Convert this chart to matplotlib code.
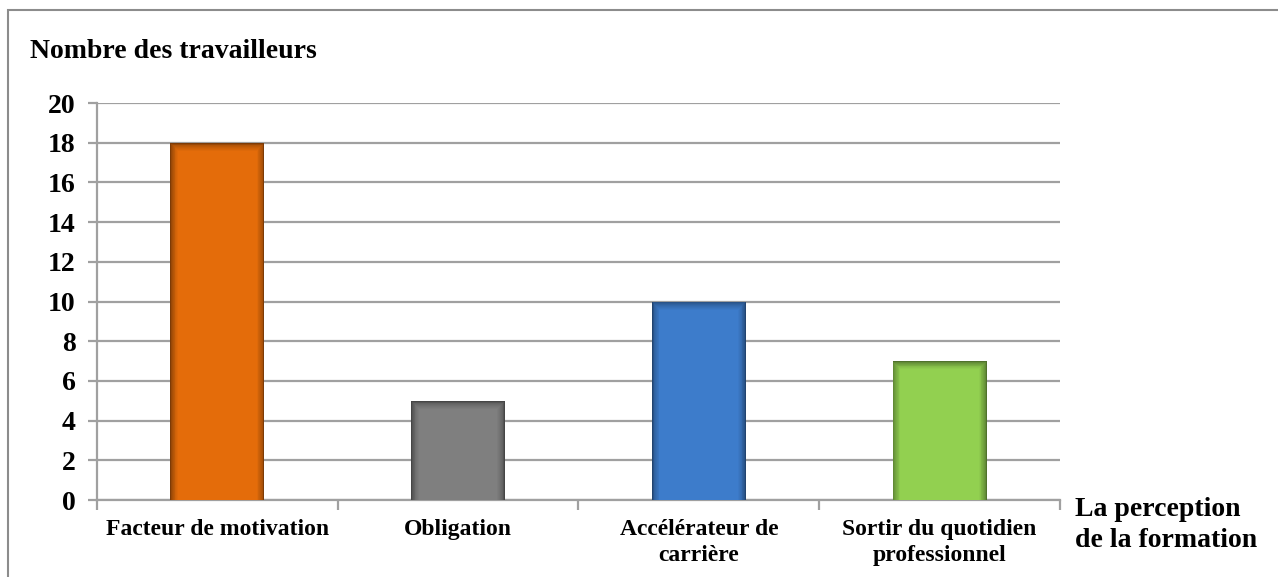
# Bar chart: perception of training among workers
import matplotlib.pyplot as plt
import matplotlib.colors as mcolors
from matplotlib.patches import Rectangle
import numpy as np

plt.rcParams['font.family'] = ['Liberation Serif', 'DejaVu Serif']
plt.rcParams['font.weight'] = 'bold'

categories = ["Facteur de motivation", "Obligation", "Accélérateur de\ncarrière",
              "Sortir du quotidien\nprofessionnel"]
values = [18, 5, 10, 7]
colors = ["#E46C0A", "#7F7F7F", "#3D7CCB", "#92D050"]

fig = plt.figure(figsize=(12.78, 5.77), dpi=100)
ax = fig.add_axes([0.0759, 0.1334, 0.7535, 0.688])

x = np.arange(len(values))
bar_w = 0.39

# layered bars give the darker, shaded edges of each column
n_layers = 10
for xi, v, c in zip(x, values, colors):
    base = np.array(mcolors.to_rgb(c))
    dark = base * 0.55
    for i in range(n_layers):
        t = (i / (n_layers - 1)) ** 0.6
        col = dark * (1 - t) + base * t
        w = bar_w - i * 0.007
        h = v - i * 0.045
        ax.bar(xi, h, width=w, color=col, edgecolor='none', zorder=3 + i * 0.01)

ax.set_xlim(-0.5, len(values) - 0.5)
ax.set_ylim(0, 20)
ax.set_yticks(range(0, 21, 2))
ax.yaxis.grid(True, color="#A0A0A0", linewidth=1.6, zorder=0)
ax.set_axisbelow(True)

for s in ["top", "right"]:
    ax.spines[s].set_visible(False)
for s in ["left", "bottom"]:
    ax.spines[s].set_color("#A0A0A0")
    ax.spines[s].set_linewidth(1.6)

# category boundary ticks on the x axis
ax.set_xticks(np.arange(-0.5, len(values), 1.0))
ax.set_xticklabels([])
ax.tick_params(axis='x', length=7, width=1.6, color="#A0A0A0")
ax.tick_params(axis='y', length=6.5, width=1.6, color="#A0A0A0", labelsize=20, pad=9)
for lbl in ax.get_yticklabels():
    lbl.set_fontweight('bold')

for xi, name in zip(x, categories):
    ax.text(xi, -0.95, name, ha='center', va='top', fontsize=17, fontweight='bold',
            linespacing=1.3)

fig.text(30 / 1278, 1 - 52 / 577, "Nombre des travailleurs", fontsize=20,
         fontweight='bold', va='center', ha='left')
fig.text(1075 / 1278, 1 - 525 / 577, "La perception\nde la formation", fontsize=20,
         fontweight='bold', va='center', ha='left', linespacing=1.3)

# outer chart frame
fig.patches.append(Rectangle((8 / 1278, -0.05), 1.1, 1 - 10 / 577 + 0.05,
                             transform=fig.transFigure, fill=False,
                             edgecolor="#8C8C8C", linewidth=1.5))

fig.savefig("out.png", dpi=100)
